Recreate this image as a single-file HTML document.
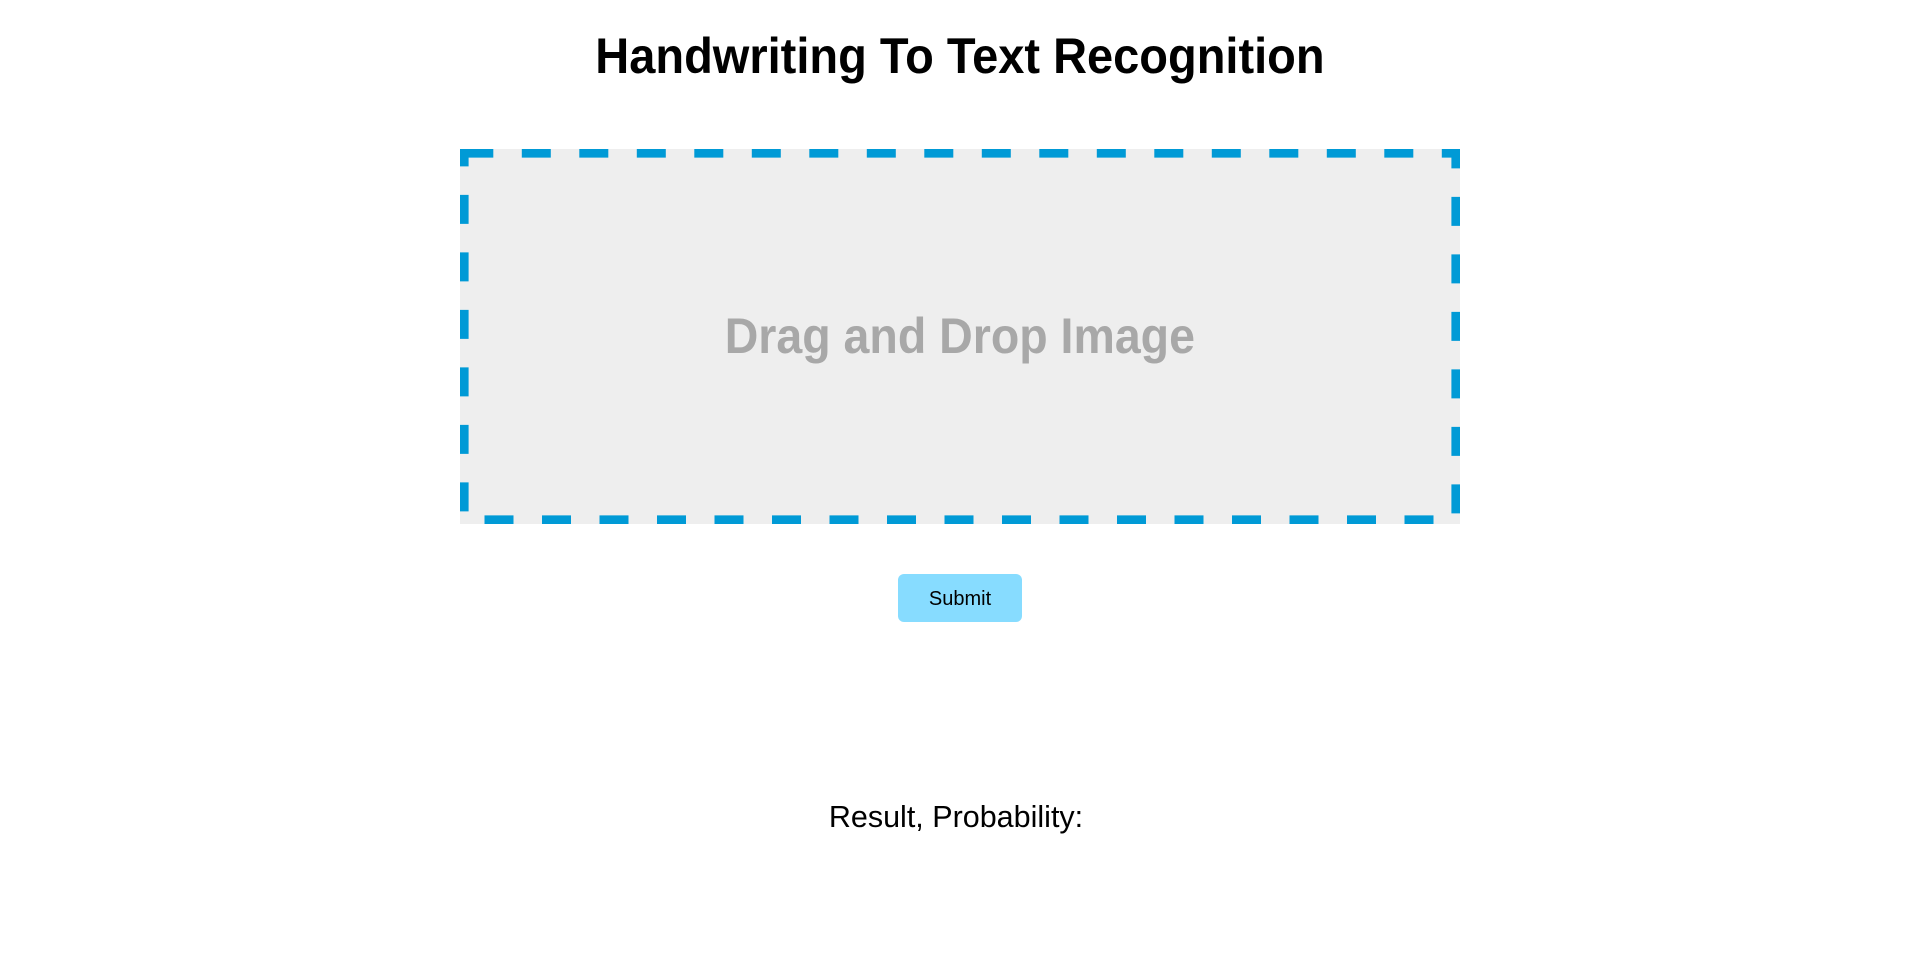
<!DOCTYPE html>
<html><head><meta charset="utf-8"><style>
html,body{margin:0;padding:0;width:1920px;height:972px;background:#fff;overflow:hidden;font-family:"Liberation Sans",sans-serif}
.abs{position:absolute;white-space:nowrap}
</style></head><body>
<div class="abs" style="left:0;width:1920px;top:26px;text-align:center;">
<span style="display:inline-block;font-weight:bold;font-size:50px;line-height:60px;transform:scaleX(0.94);color:#000">Handwriting To Text Recognition</span></div>
<svg class="abs" style="left:460px;top:149px" width="1000" height="375">
<rect x="0" y="0" width="1000" height="375" fill="#eeeeee"/>
<rect x="4.3" y="4.3" width="991.4" height="366.4" fill="none" stroke="#009ad6" stroke-width="8.6" stroke-dasharray="29 28.5"/>
</svg>
<div class="abs" style="left:460px;width:1000px;top:306px;text-align:center;">
<span style="display:inline-block;font-weight:bold;font-size:50px;line-height:60px;transform:scaleX(0.93);color:#a8a8a8">Drag and Drop Image</span></div>
<div class="abs" style="left:898px;top:574px;width:124px;height:48px;background:#87dcff;border-radius:6px;text-align:center;line-height:50px;font-size:20px;color:#000">Submit</div>
<div class="abs" style="left:0;width:1912px;top:797px;text-align:center;font-size:30.5px;line-height:40px;color:#000">Result, Probability:</div>
</body></html>
